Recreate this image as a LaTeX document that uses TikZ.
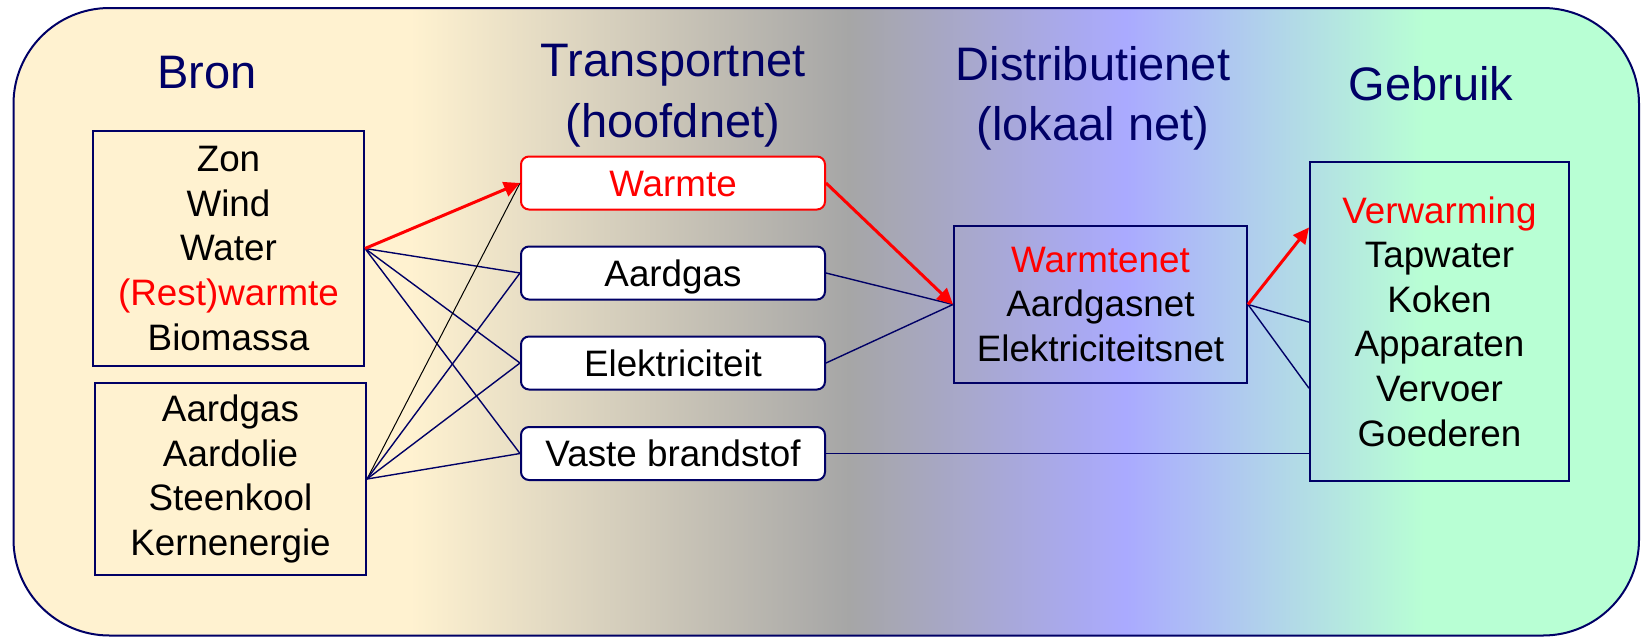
\documentclass[tikz,border=0pt]{standalone}
\usepackage{fontspec}
\setmainfont{Liberation Sans}
\usetikzlibrary{arrows.meta,calc}
\definecolor{navy}{RGB}{0,0,102}
\definecolor{cream}{RGB}{255,242,208}
\definecolor{midgray}{RGB}{166,166,166}
\definecolor{peri}{RGB}{170,170,255}
\definecolor{mint}{RGB}{184,255,212}
\definecolor{hotred}{RGB}{255,0,0}
\pgfdeclarehorizontalshading{bgshade}{100bp}{color(0bp)=(cream); color(37.2bp)=(cream); color(50.7bp)=(midgray); color(59.2bp)=(peri); color(68.4bp)=(mint); color(100bp)=(mint)}
\begin{document}
\begin{tikzpicture}[x=0.5pt,y=-0.5pt,
  title/.style={font=\fontsize{23.5}{30.3}\selectfont, text=navy, align=center, inner sep=0pt},
  body/.style={font=\fontsize{18.4}{22.3}\selectfont, align=center, inner sep=0pt},
  srcbox/.style={body, draw=navy, line width=1pt},
  tbox/.style={body, draw=navy, line width=1pt, fill=white, rounded corners=4pt, minimum width=152pt, minimum height=26.5pt, text height=13.4pt, text depth=0pt},
  redarrow/.style={hotred, line width=1.5pt, -{Triangle[length=8pt,width=7.5pt]}},
  navyline/.style={navy, line width=0.7pt},
  blackline/.style={black, line width=0.5pt}
]
\useasboundingbox (0,0) rectangle (1641,637);
\fill[white] (0,0) rectangle (1641,637);
\shadedraw[shading=bgshade, draw=navy, line width=1pt, rounded corners=48pt] (13.5,8) rectangle (1639,635.5);

% titles
\node[title] (tbron) at (207,73) {Bron};
\node[title] (ttrans) at (673,95.5) {Transportnet\\(hoofdnet)};
\node[title] (tdist) at (1093,98.5) {Distributienet\\(lokaal net)};
\node[title] (tgeb) at (1431,84) {Gebruik};

% source boxes
\node[srcbox, minimum width=135.5pt, minimum height=117.5pt] (src1) at (228.5,248.5)
  {Zon\\Wind\\Water\\\textcolor{hotred}{(Rest)warmte}\\Biomassa};
\node[srcbox, minimum width=135.5pt, minimum height=96pt] (src2) at (230.5,479)
  {Aardgas\\Aardolie\\Steenkool\\Kernenergie};

% transport boxes
\node[tbox, draw=hotred, text=hotred] (warm) at (673,183) {Warmte};
\node[tbox] (gas) at (673,273) {Aardgas};
\node[tbox] (elek) at (673,363) {Elektriciteit};
\node[tbox] (vaste) at (673,453.5) {Vaste brandstof};

% distribution box
\node[srcbox, minimum width=146.5pt, minimum height=78.5pt] (dist) at (1100.5,304.5)
  {\textcolor{hotred}{Warmtenet}\\Aardgasnet\\Elektriciteitsnet};

% use box
\node[srcbox, minimum width=129.5pt, minimum height=159.5pt] (geb) at (1439.5,321.5)
  {\textcolor{hotred}{Verwarming}\\Tapwater\\Koken\\Apparaten\\Vervoer\\Goederen};

\path (geb.north west) -- (geb.south west)
  coordinate[pos=0.207] (g1)
  coordinate[pos=0.502] (g2)
  coordinate[pos=0.708] (g3);

% connectors source -> transport
\draw[navyline] (src1.east) -- (gas.west);
\draw[navyline] (src1.east) -- (elek.west);
\draw[navyline] (src1.east) -- (vaste.west);
\draw[blackline] (src2.east) -- (warm.west);
\draw[navyline] (src2.east) -- (gas.west);
\draw[navyline] (src2.east) -- (elek.west);
\draw[navyline] (src2.east) -- (vaste.west);
\draw[redarrow] (src1.east) -- (warm.west);

% transport -> distribution
\draw[navyline] (gas.east) -- (dist.west);
\draw[navyline] (elek.east) -- (dist.west);
\draw[redarrow] (warm.east) -- (dist.west);
\draw[navyline] (vaste.east) -- (vaste.east -| geb.west);

% distribution -> use
\draw[navyline] (dist.east) -- (g2);
\draw[navyline] (dist.east) -- (g3);
\draw[redarrow] (dist.east) -- (g1);
\end{tikzpicture}
\end{document}
